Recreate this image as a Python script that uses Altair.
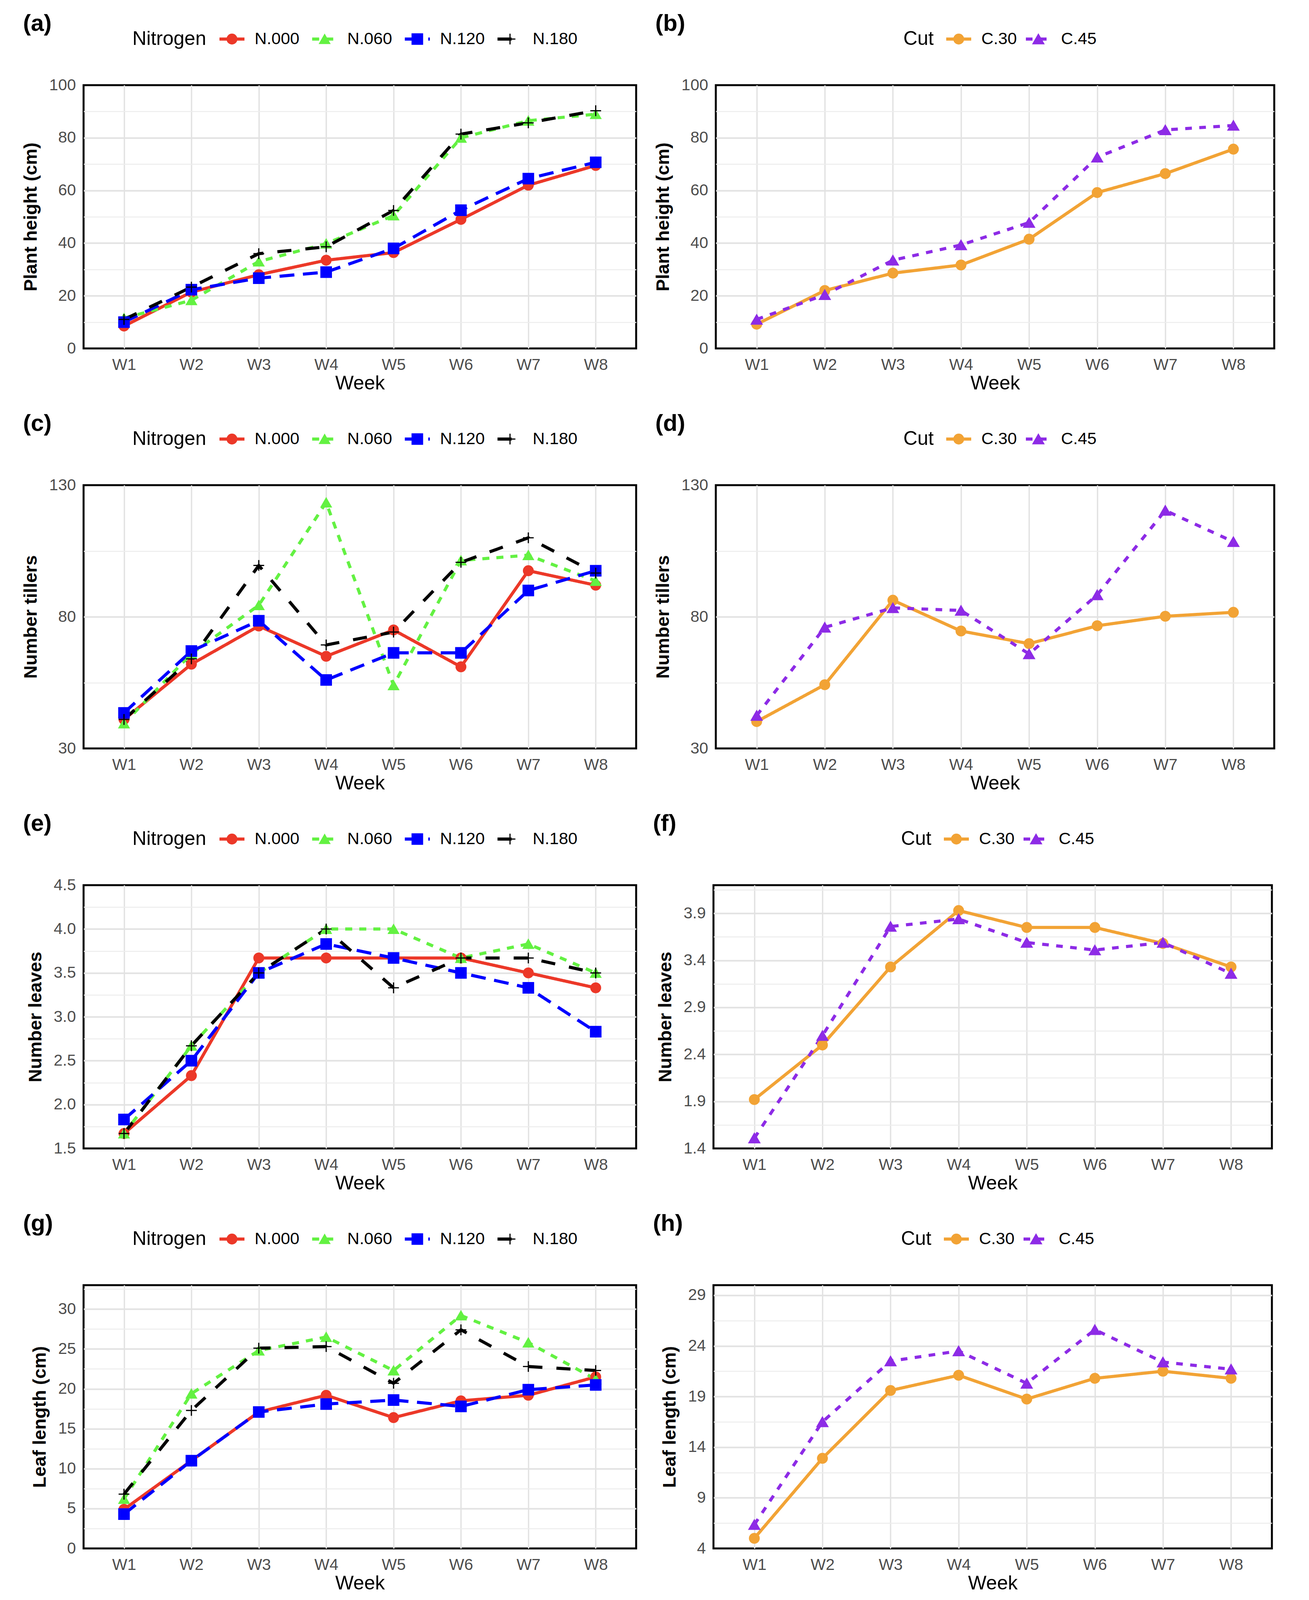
import altair as alt
import pandas as pd

FONT = "Liberation Sans"

weeks = ["W1", "W2", "W3", "W4", "W5", "W6", "W7", "W8"]
nitrogen_levels = ["N.000", "N.060", "N.120", "N.180"]
cut_levels = ["C.30", "C.45"]

# (a) Plant height (cm) by nitrogen
height_n000 = [8.5, 21.4, 28.0, 33.5, 36.4, 49.0, 62.0, 69.5]
height_n060 = [11.5, 18.3, 33.0, 39.8, 50.5, 80.0, 86.5, 89.0]
height_n120 = [10.0, 22.3, 26.7, 29.0, 38.0, 52.5, 64.5, 70.7]
height_n180 = [11.0, 23.3, 36.0, 38.6, 52.4, 81.4, 85.7, 90.3]
# (b) Plant height (cm) by cut
height_c30 = [9.2, 22.0, 28.6, 31.7, 41.5, 59.2, 66.4, 75.7]
height_c45 = [11.0, 20.4, 33.5, 39.3, 47.8, 72.6, 83.0, 84.7]
# (c) Number tillers by nitrogen
tillers_n000 = [41.0, 62.0, 76.5, 65.0, 75.0, 61.0, 97.5, 92.0]
tillers_n060 = [39.5, 66.0, 84.4, 123.4, 54.0, 101.4, 103.4, 93.6]
tillers_n120 = [43.5, 67.0, 78.5, 56.0, 66.3, 66.3, 90.0, 97.5]
tillers_n180 = [41.0, 64.0, 99.5, 69.3, 74.2, 100.7, 110.0, 96.6]
# (d) Number tillers by cut
tillers_c30 = [40.2, 54.2, 86.3, 74.6, 69.8, 76.6, 80.2, 81.7]
tillers_c45 = [42.5, 76.0, 83.4, 82.4, 65.9, 88.3, 120.4, 108.5]
# (e) Number leaves by nitrogen
leaves_n000 = [1.67, 2.33, 3.67, 3.67, 3.67, 3.67, 3.50, 3.33]
leaves_n060 = [1.67, 2.67, 3.50, 4.00, 4.00, 3.67, 3.83, 3.50]
leaves_n120 = [1.83, 2.50, 3.50, 3.83, 3.67, 3.50, 3.33, 2.83]
leaves_n180 = [1.67, 2.67, 3.50, 4.00, 3.33, 3.67, 3.67, 3.50]
# (f) Number leaves by cut
leaves_c30 = [1.92, 2.50, 3.33, 3.93, 3.75, 3.75, 3.58, 3.33]
leaves_c45 = [1.51, 2.60, 3.76, 3.84, 3.59, 3.51, 3.59, 3.26]
# (g) Leaf length (cm) by nitrogen
length_n000 = [4.9, 11.0, 17.1, 19.2, 16.4, 18.5, 19.2, 21.5]
length_n060 = [6.2, 19.4, 24.8, 26.5, 22.3, 29.2, 25.8, 21.2]
length_n120 = [4.3, 11.0, 17.1, 18.1, 18.6, 17.8, 19.9, 20.5]
length_n180 = [6.8, 17.3, 25.1, 25.3, 20.7, 27.4, 22.8, 22.3]
# (h) Leaf length (cm) by cut
length_c30 = [5.0, 12.9, 19.6, 21.1, 18.75, 20.8, 21.5, 20.8]
length_c45 = [6.35, 16.5, 22.5, 23.5, 20.3, 25.6, 22.4, 21.7]

# axis ticks (major labelled, minor grid only)
height_major = [0, 20, 40, 60, 80, 100]
height_minor = [10, 30, 50, 70, 90]
tillers_major = [30, 80, 130]
tillers_minor = [55, 105]
leavesN_major = [1.5, 2.0, 2.5, 3.0, 3.5, 4.0, 4.5]
leavesN_minor = [1.75, 2.25, 2.75, 3.25, 3.75, 4.25]
leavesC_major = [1.4, 1.9, 2.4, 2.9, 3.4, 3.9]
leavesC_minor = [1.65, 2.15, 2.65, 3.15, 3.65, 4.15]
lengthN_major = [0, 5, 10, 15, 20, 25, 30]
lengthN_minor = [2.5, 7.5, 12.5, 17.5, 22.5, 27.5, 32.5]
lengthC_major = [4, 9, 14, 19, 24, 29]
lengthC_minor = [6.5, 11.5, 16.5, 21.5, 26.5]

# styles
nitrogen_colors = ["#EC3828", "#63F142", "#0000FF", "#000000"]
nitrogen_shapes = ["circle", "triangle-up", "square", "M-1,0L1,0M0,-1L0,1"]
nitrogen_dashes = [[1, 0], [18, 18], [38, 22], [36, 36]]
nitrogen_sizes = [620, 760, 760, 1450]
cut_colors = ["#F2A335", "#8D2BE6"]
cut_shapes = ["circle", "triangle-up"]
cut_dashes = [[1, 0], [17, 19]]
cut_sizes = [620, 760]

PH = 674
LEG_H = 60
TICK_COLOR = "#4D4D4D"

groups = {
    "N": dict(levels=nitrogen_levels, colors=nitrogen_colors, shapes=nitrogen_shapes,
              dashes=nitrogen_dashes, sizes=nitrogen_sizes, title="Nitrogen",
              leg_range=[380, 1092], title_dx=-66, width=1415),
    "C": dict(levels=cut_levels, colors=cut_colors, shapes=cut_shapes,
              dashes=cut_dashes, sizes=cut_sizes, title="Cut",
              leg_range=[622, 826], title_dx=-64, width=1430),
}

panels = [
    ("(a)", "N", "Plant height (cm)", [height_n000, height_n060, height_n120, height_n180],
     [0, 100], height_major, height_minor, "d"),
    ("(b)", "C", "Plant height (cm)", [height_c30, height_c45],
     [0, 100], height_major, height_minor, "d"),
    ("(c)", "N", "Number tillers", [tillers_n000, tillers_n060, tillers_n120, tillers_n180],
     [30, 130], tillers_major, tillers_minor, "d"),
    ("(d)", "C", "Number tillers", [tillers_c30, tillers_c45],
     [30, 130], tillers_major, tillers_minor, "d"),
    ("(e)", "N", "Number leaves", [leaves_n000, leaves_n060, leaves_n120, leaves_n180],
     [1.5, 4.5], leavesN_major, leavesN_minor, ".1f"),
    ("(f)", "C", "Number leaves", [leaves_c30, leaves_c45],
     [1.4, 4.2], leavesC_major, leavesC_minor, ".1f"),
    ("(g)", "N", "Leaf length (cm)", [length_n000, length_n060, length_n120, length_n180],
     [0, 33], lengthN_major, lengthN_minor, "d"),
    ("(h)", "C", "Leaf length (cm)", [length_c30, length_c45],
     [4, 30], lengthC_major, lengthC_minor, "d"),
]


def scales(g):
    lv = g["levels"]
    return dict(
        col=alt.Scale(domain=lv, range=g["colors"]),
        shp=alt.Scale(domain=lv, range=g["shapes"]),
        dsh=alt.Scale(domain=lv, range=g["dashes"]),
        siz=alt.Scale(domain=lv, range=g["sizes"]),
    )


def make_panel(tag, kind, ytitle, series, domain, majors, minors, fmt):
    g = groups[kind]
    sc = scales(g)
    PW = g["width"]
    rows = []
    for s, vals in zip(g["levels"], series):
        for w, v in zip(weeks, vals):
            rows.append({"week": w, "series": s, "value": v})
    df = pd.DataFrame(rows)

    mj = "[" + ",".join(repr(v) for v in majors) + "]"
    major_test = f"indexof({mj}, datum.value) >= 0"
    edge_test = f"datum.value == {domain[0]!r} || datum.value == {domain[1]!r}"
    yaxis = alt.Axis(
        title=ytitle, values=sorted(majors + minors), format=fmt,
        labelExpr=f"({major_test}) ? datum.label : ''",
        grid=True, ticks=False, domain=False,
        gridColor={"condition": {"test": major_test, "value": "#E2E2E2"}, "value": "#EDEDED"},
        gridWidth={"condition": {"test": major_test, "value": 4}, "value": 2.5},
        gridOpacity={"condition": {"test": edge_test, "value": 0}, "value": 1},
        labelFontSize=41, labelColor=TICK_COLOR, labelPadding=20,
        titleFontSize=47, titleFontWeight="bold", titleColor="black", titlePadding=22,
    )
    xaxis = alt.Axis(
        title="Week", labelAngle=0, ticks=False, domain=False, grid=True,
        gridColor="#E2E2E2", gridWidth=3.5,
        labelFontSize=41, labelColor=TICK_COLOR, labelPadding=22,
        titleFontSize=50, titleFontWeight="normal", titleColor="black", titlePadding=2,
    )
    base = alt.Chart(df).encode(
        x=alt.X("week:N", sort=weeks, scale=alt.Scale(type="point", domain=weeks, padding=0.6), axis=xaxis),
        y=alt.Y("value:Q", scale=alt.Scale(domain=domain, nice=False, zero=False), axis=yaxis),
    )
    lines = base.mark_line(strokeWidth=8, strokeJoin="round").encode(
        stroke=alt.Stroke("series:N", scale=sc["col"], legend=None),
        strokeDash=alt.StrokeDash("series:N", scale=sc["dsh"], legend=None),
        detail="series:N",
    )
    points = base.mark_point(filled=True, opacity=1, strokeWidth=3).encode(
        fill=alt.Fill("series:N", scale=sc["col"], legend=None),
        stroke=alt.Stroke("series:N", scale=sc["col"], legend=None),
        shape=alt.Shape("series:N", scale=sc["shp"], legend=None),
        size=alt.Size("series:O", scale=sc["siz"], legend=None),
    )
    plot = alt.layer(lines, points).properties(
        width=PW, height=PH,
        view=alt.ViewBackground(stroke="black", strokeWidth=5, strokeOpacity=1),
    )

    # legend drawn from the same scales
    ldf = pd.DataFrame({"series": g["levels"]})
    lb = alt.Chart(ldf).encode(
        x=alt.X("series:N", sort=g["levels"],
                scale=alt.Scale(type="point", domain=g["levels"], range=g["leg_range"], padding=0),
                axis=None)
    )
    lrule = lb.mark_rule(strokeWidth=8, xOffset=-32, x2Offset=32).encode(
        x2=alt.X2("series"),
        stroke=alt.Stroke("series:N", scale=sc["col"], legend=None),
        strokeDash=alt.StrokeDash("series:N", scale=sc["dsh"], legend=None),
    )
    lpts = lb.mark_point(filled=True, opacity=1, strokeWidth=3).encode(
        fill=alt.Fill("series:N", scale=sc["col"], legend=None),
        stroke=alt.Stroke("series:N", scale=sc["col"], legend=None),
        shape=alt.Shape("series:N", scale=sc["shp"], legend=None),
        size=alt.Size("series:O", scale=sc["siz"], legend=None),
    )
    ltxt = lb.mark_text(align="left", baseline="middle", dx=58, fontSize=43, color="black",
                        font=FONT).encode(text="series:N")
    lttl = lb.transform_filter(alt.datum.series == g["levels"][0]).mark_text(
        align="right", baseline="middle", dx=g["title_dx"], fontSize=50, color="black",
        font=FONT, text=g["title"])
    legend = alt.layer(lrule, lpts, ltxt, lttl).properties(
        width=PW, height=LEG_H, view=alt.ViewBackground(strokeOpacity=0)
    )

    panel = alt.vconcat(legend, plot, spacing=88, bounds="flush").properties(
        title=alt.TitleParams(text=tag, anchor="start", frame="group", fontSize=60,
                              fontWeight="bold", color="black", font=FONT,
                              offset=-22, dx=-155)
    ).resolve_scale(x="independent", y="independent", fill="independent",
                    stroke="independent", shape="independent", size="independent",
                    strokeDash="independent")
    return panel


built = [make_panel(*p) for p in panels]
rows = []
for i in range(0, 8, 2):
    rows.append(
        alt.hconcat(built[i], built[i + 1], spacing=40).resolve_scale(
            x="independent", y="independent", fill="independent", stroke="independent",
            shape="independent", size="independent", strokeDash="independent")
    )

chart = alt.vconcat(*rows, spacing=46).resolve_scale(
    x="independent", y="independent", fill="independent", stroke="independent",
    shape="independent", size="independent", strokeDash="independent"
).properties(
    padding={"left": 45, "top": 23, "right": 5, "bottom": 5}
).configure(font=FONT).configure_view(strokeOpacity=0).configure_axis(
    labelFont=FONT, titleFont=FONT
)

chart.save("out.html", embed_options={"renderer": "svg", "actions": False})
